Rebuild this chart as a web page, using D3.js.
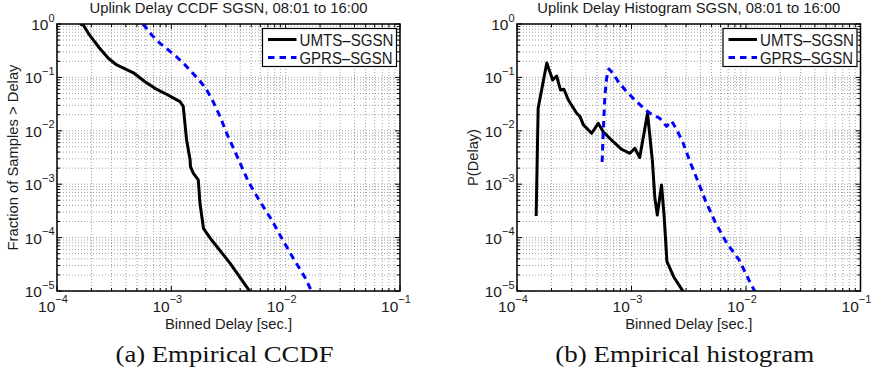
<!DOCTYPE html>
<html>
<head>
<meta charset="utf-8">
<script src="https://cdn.jsdelivr.net/npm/d3@7"></script>
<style>
  body { margin: 0; background: #fff; }
  svg { display: block; }
  text { font-family: "Liberation Sans", Arial, Helvetica, sans-serif; fill: #1a1a1a; }
  text.caption { font-family: "Liberation Serif", "Times New Roman", Times, serif; fill: #111; }
</style>
</head>
<body>
<svg id="chart" width="879" height="372"></svg>
<script>
// (a) CCDF
const ccdfUmtsDelay = [1.59e-4, 1.70e-4, 1.88e-4, 2.30e-4, 2.81e-4, 3.33e-4, 4.66e-4, 5.89e-4, 7.19e-4, 9.35e-4,
    1.19e-3, 1.27e-3, 1.36e-3, 1.46e-3, 1.47e-3, 1.56e-3, 1.72e-3, 1.78e-3, 1.91e-3, 2.25e-3, 3.27e-3, 5.0e-3];
const ccdfUmtsFrac = [1, 0.957, 0.67, 0.376, 0.228, 0.171, 0.122, 0.083, 0.0625, 0.0468,
    0.0351, 0.0291, 0.00673, 0.00284, 0.00213, 0.0016, 0.0012, 0.000439, 0.000149, 9.0e-5, 3.3e-5, 9.0e-6];

const ccdfGprsDelay = [5.65e-4, 6.74e-4, 7.97e-4, 9.42e-4, 1.11e-3, 1.32e-3, 1.51e-3, 1.78e-3, 2.04e-3, 2.32e-3,
    2.67e-3, 3.05e-3, 3.61e-3, 4.72e-3, 5.97e-3, 7.55e-3, 9.43e-3, 1.18e-2, 1.49e-2, 1.72e-2];
const ccdfGprsFrac = [1, 0.622, 0.435, 0.326, 0.244, 0.171, 0.125, 0.0857, 0.058, 0.0351,
    0.0184, 0.00897, 0.00406, 0.00111, 4.70e-4, 2.14e-4, 9.0e-5, 3.92e-5, 1.73e-5, 9.0e-6];

// (b) histogram
const histUmtsDelay = [1.47e-4, 1.53e-4, 1.82e-4, 2.05e-4, 2.22e-4, 2.40e-4, 2.57e-4, 2.81e-4, 3.32e-4, 3.55e-4,
    3.80e-4, 4.49e-4, 5.12e-4, 5.66e-4, 6.92e-4, 8.20e-4, 9.68e-4, 1.07e-3, 1.18e-3, 1.38e-3,
    1.52e-3, 1.60e-3, 1.68e-3, 1.83e-3, 1.92e-3, 2.04e-3, 2.34e-3, 2.90e-3];
const histUmtsProb = [2.54e-4, 0.0264, 0.186, 0.0894, 0.106, 0.058, 0.0599, 0.0377, 0.0213, 0.0184,
    0.0129, 0.00898, 0.0138, 0.00962, 0.00625, 0.00451, 0.00379, 0.0047, 0.00316, 0.0213,
    0.00284, 5.45e-4, 2.65e-4, 9.66e-4, 2.85e-4, 3.54e-5, 1.83e-5, 9.0e-6];

const histGprsDelay = [5.54e-4, 5.66e-4, 5.86e-4, 6.07e-4, 6.35e-4, 6.92e-4, 7.66e-4, 9.06e-4, 1.07e-3, 1.26e-3,
    1.45e-3, 1.77e-3, 2.02e-3, 2.24e-3, 2.49e-3, 2.83e-3, 3.24e-3, 3.82e-3, 4.46e-3, 5.42e-3,
    6.76e-3, 8.71e-3, 1.06e-2, 1.22e-2];
const histGprsProb = [2.61e-3, 8.98e-3, 0.0468, 0.0975, 0.144, 0.119, 0.0831, 0.054, 0.0377, 0.0273,
    0.0213, 0.0171, 0.0121, 0.0153, 0.0104, 0.00583, 0.00264, 0.00111, 4.70e-4, 1.90e-4,
    8.02e-5, 3.81e-5, 1.61e-5, 9.0e-6];

const xTickExp = [-4, -3, -2, -1];
const yTickExp = [0, -1, -2, -3, -4, -5];
const seriesNames = ["UMTS\u2013SGSN", "GPRS\u2013SGSN"];

const svg = d3.select("#chart");

// stretch a text to the width it has in the reference
function fitWidth(sel, w) {
    return sel.attr("textLength", w).attr("lengthAdjust", "spacingAndGlyphs");
}

function drawPanel(opts) {
    const { left, right, top, bottom, id } = opts;
    const x = d3.scaleLog().domain([1e-4, 1e-1]).range([left, right]);
    const y = d3.scaleLog().domain([1e-5, 1]).range([bottom, top]);
    const g = svg.append("g");

    // grid: every decade and the 2..9 minor ticks
    const minorX = [], minorY = [];
    xTickExp.slice(0, -1).forEach(e => { for (let k = 2; k < 10; k++) minorX.push(k * Math.pow(10, e)); });
    yTickExp.slice(1).forEach(e => { for (let k = 2; k < 10; k++) minorY.push(k * Math.pow(10, e)); });
    const majorX = xTickExp.map(e => Math.pow(10, e));
    const majorY = yTickExp.map(e => Math.pow(10, e));

    const grid = g.append("g").attr("stroke", "#8a8a8a").attr("stroke-width", 0.8).attr("stroke-dasharray", "1,2");
    grid.selectAll(".vx").data(minorX.concat(majorX)).enter().append("line")
        .attr("x1", d => x(d)).attr("x2", d => x(d)).attr("y1", top).attr("y2", bottom);
    grid.selectAll(".hy").data(minorY.concat(majorY)).enter().append("line")
        .attr("x1", left).attr("x2", right).attr("y1", d => y(d)).attr("y2", d => y(d));

    // inward ticks on all four sides
    const ticks = g.append("g").attr("stroke", "#000").attr("stroke-width", 1);
    const tickLen = d => majorX.includes(d) || majorY.includes(d) ? 5 : 3;
    minorX.concat(majorX).forEach(d => {
        ticks.append("line").attr("x1", x(d)).attr("x2", x(d)).attr("y1", bottom).attr("y2", bottom - tickLen(d));
        ticks.append("line").attr("x1", x(d)).attr("x2", x(d)).attr("y1", top).attr("y2", top + tickLen(d));
    });
    minorY.concat(majorY).forEach(d => {
        ticks.append("line").attr("y1", y(d)).attr("y2", y(d)).attr("x1", left).attr("x2", left + tickLen(d));
        ticks.append("line").attr("y1", y(d)).attr("y2", y(d)).attr("x1", right).attr("x2", right - tickLen(d));
    });

    // tick labels 10^e
    xTickExp.forEach(e => {
        const t = g.append("text").attr("x", x(Math.pow(10, e)) - 4).attr("y", bottom + 20.5)
            .attr("text-anchor", "middle").style("font-size", "15.5px");
        t.append("tspan").text("10");
        t.append("tspan").attr("dy", -8.5).style("font-size", "11px").text(String(e).replace("-", "\u2212"));
    });
    yTickExp.forEach(e => {
        const t = g.append("text").attr("x", left - 2.5).attr("y", y(Math.pow(10, e)) + 6)
            .attr("text-anchor", "end").style("font-size", "15.5px");
        t.append("tspan").text("10");
        t.append("tspan").attr("dy", -8.5).style("font-size", "11px").text(String(e).replace("-", "\u2212"));
    });

    // curves
    g.append("clipPath").attr("id", "clip-" + id).append("rect")
        .attr("x", left).attr("y", top).attr("width", right - left).attr("height", bottom - top);
    const line = d3.line().x(d => x(d[0])).y(d => y(d[1]));
    const curves = g.append("g").attr("clip-path", `url(#clip-${id})`).attr("fill", "none")
        .attr("stroke-width", 3).attr("stroke-linejoin", "round");
    curves.append("path").datum(d3.zip(opts.umtsX, opts.umtsY)).attr("d", line).attr("stroke", "#000");
    curves.append("path").datum(d3.zip(opts.gprsX, opts.gprsY)).attr("d", line)
        .attr("stroke", "#0000ff").attr("stroke-dasharray", "6.5,5");

    // axes box
    g.append("rect").attr("x", left).attr("y", top).attr("width", right - left).attr("height", bottom - top)
        .attr("fill", "none").attr("stroke", "#000").attr("stroke-width", 1.5);

    // legend
    const lx = right - 137.5, ly = top + 4.5;
    g.append("rect").attr("x", lx).attr("y", ly).attr("width", 134).attr("height", 38)
        .attr("fill", "#fff").attr("stroke", "#000").attr("stroke-width", 1.2);
    seriesNames.forEach((name, i) => {
        const yy = ly + 11 + i * 18;
        g.append("line").attr("x1", lx + 5.5).attr("x2", lx + 34).attr("y1", yy).attr("y2", yy)
            .attr("stroke", i === 0 ? "#000" : "#0000ff").attr("stroke-width", 3)
            .attr("stroke-dasharray", i === 0 ? null : "6.5,5");
        fitWidth(g.append("text").attr("x", lx + 37).attr("y", yy + 6).style("font-size", "16px").text(name),
            i === 0 ? 94 : 93);
    });

    // titles and labels
    const cx = (left + right) / 2;
    fitWidth(g.append("text").attr("x", cx).attr("y", 13).attr("text-anchor", "middle")
        .style("font-size", "15px").text(opts.title), opts.titleLen);
    fitWidth(g.append("text").attr("x", cx).attr("y", 328.5).attr("text-anchor", "middle")
        .style("font-size", "14.5px").text("Binned Delay [sec.]"), 127);
    fitWidth(g.append("text").attr("transform", `translate(${opts.ylabelX},${(top + bottom) / 2}) rotate(-90)`)
        .attr("text-anchor", "middle").style("font-size", "15px").text(opts.ylabel), opts.ylabelLen);
    fitWidth(g.append("text").attr("class", "caption").attr("x", cx - 4).attr("y", 362).attr("text-anchor", "middle")
        .style("font-size", "24px").text(opts.caption), opts.captionLen);
}

drawPanel({
    id: "a", left: 57, right: 400, top: 24, bottom: 291,
    umtsX: ccdfUmtsDelay, umtsY: ccdfUmtsFrac, gprsX: ccdfGprsDelay, gprsY: ccdfGprsFrac,
    title: "Uplink Delay CCDF SGSN, 08:01 to 16:00", titleLen: 278,
    ylabel: "Fraction of Samples > Delay", ylabelX: 18, ylabelLen: 186,
    caption: "(a) Empirical CCDF", captionLen: 218
});
drawPanel({
    id: "b", left: 517, right: 860.5, top: 24, bottom: 291,
    umtsX: histUmtsDelay, umtsY: histUmtsProb, gprsX: histGprsDelay, gprsY: histGprsProb,
    title: "Uplink Delay Histogram SGSN, 08:01 to 16:00", titleLen: 303,
    ylabel: "P(Delay)", ylabelX: 478, ylabelLen: 57,
    caption: "(b) Empirical histogram", captionLen: 259
});
</script>
</body>
</html>
